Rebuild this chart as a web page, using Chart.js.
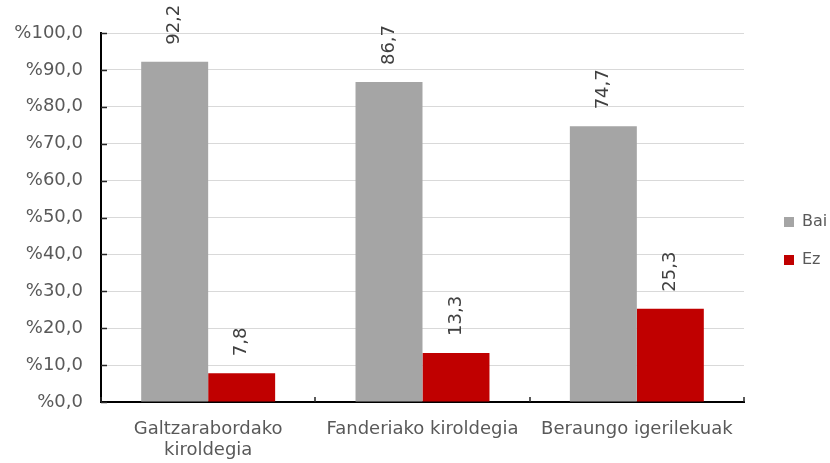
<!DOCTYPE html>
<html>
<head>
<meta charset="utf-8">
<script src="https://cdn.jsdelivr.net/npm/chart.js@4/dist/chart.umd.min.js"></script>
<style>
  html, body { margin: 0; padding: 0; background: #fff; }
  #wrap { width: 830px; height: 463px; }
</style>
</head>
<body>
<div id="wrap"><canvas id="chart" width="830" height="463"></canvas></div>
<script>
// Data
const categories = [["Galtzarabordako", "kiroldegia"], "Fanderiako kiroldegia", "Beraungo igerilekuak"];
const seriesNames = ["Bai", "Ez"];
const baiValues = [92.2, 86.7, 74.7];
const ezValues = [7.8, 13.3, 25.3];
const yTicks = [0, 10, 20, 30, 40, 50, 60, 70, 80, 90, 100];

const FONT = "'DejaVu Sans', Verdana, sans-serif";
const TEXT = "#595959";

function fmt(v) {
  return v.toFixed(1).replace(".", ",");
}

// value labels, rotated, sitting above each bar
const barLabels = {
  id: "barLabels",
  afterDatasetsDraw(chart) {
    const ctx = chart.ctx;
    ctx.save();
    ctx.font = "18px " + FONT;
    ctx.fillStyle = "#404040";
    ctx.textAlign = "left";
    ctx.textBaseline = "middle";
    chart.data.datasets.forEach((ds, di) => {
      chart.getDatasetMeta(di).data.forEach((bar, i) => {
        ctx.save();
        ctx.translate(bar.x, bar.y - 17);
        ctx.rotate(-Math.PI / 2);
        ctx.fillText(fmt(ds.data[i]), 0, 0);
        ctx.restore();
      });
    });
    ctx.restore();
  }
};

// short tick marks drawn inside the plot, like the original
const innerTicks = {
  id: "innerTicks",
  afterDraw(chart) {
    const ctx = chart.ctx;
    const area = chart.chartArea;
    const y = chart.scales.y;
    ctx.save();
    ctx.strokeStyle = "#262626";
    ctx.lineWidth = 1.5;
    ctx.beginPath();
    yTicks.forEach(t => {
      const py = Math.round(y.getPixelForValue(t)) + 0.5;
      ctx.moveTo(area.left, py);
      ctx.lineTo(area.left + 6, py);
    });
    const step = (area.right - area.left) / categories.length;
    for (let i = 0; i <= categories.length; i++) {
      const px = Math.round(area.left + i * step);
      ctx.moveTo(px, area.bottom);
      ctx.lineTo(px, area.bottom - 5);
    }
    ctx.stroke();
    ctx.restore();
  }
};

new Chart(document.getElementById("chart"), {
  type: "bar",
  data: {
    labels: categories,
    datasets: [
      { label: seriesNames[0], data: baiValues, backgroundColor: "#A5A5A5" },
      { label: seriesNames[1], data: ezValues, backgroundColor: "#C00000" }
    ]
  },
  options: {
    responsive: false,
    animation: false,
    layout: { padding: { top: 33, right: 3, bottom: 0, left: 0 } },
    datasets: { bar: { categoryPercentage: 0.625, barPercentage: 1 } },
    plugins: {
      tooltip: { enabled: false },
      legend: {
        position: "right",
        fullSize: false,
        maxWidth: 65,
        title: {
          display: true,
          text: "",
          font: { family: FONT, size: 10, lineHeight: 1 },
          padding: { top: 37, bottom: 0 }
        },
        labels: {
          boxWidth: 10,
          boxHeight: 10,
          padding: 22,
          color: TEXT,
          font: { family: FONT, size: 16 }
        }
      }
    },
    scales: {
      x: {
        grid: { display: false },
        border: { display: true, color: "#000", width: 2 },
        ticks: {
          color: TEXT,
          padding: 9,
          maxRotation: 0,
          autoSkip: false,
          font: { family: FONT, size: 18, lineHeight: 1.15 }
        },
        afterFit: s => { s.height = 61; }
      },
      y: {
        min: 0,
        max: 100,
        afterBuildTicks: s => { s.ticks = yTicks.map(v => ({ value: v })); },
        grid: { color: "#D9D9D9", lineWidth: 1, drawTicks: false },
        border: { display: true, color: "#000", width: 2 },
        ticks: {
          color: TEXT,
          padding: 18,
          font: { family: FONT, size: 18 },
          callback: v => "%" + fmt(v)
        },
        afterFit: s => { s.width = 101; }
      },
      gap: {
        type: "linear",
        position: "right",
        display: true,
        grid: { display: false },
        border: { display: false },
        ticks: { display: false },
        afterFit: s => { s.width = 18; }
      }
    }
  },
  plugins: [barLabels, innerTicks]
});
</script>
</body>
</html>
